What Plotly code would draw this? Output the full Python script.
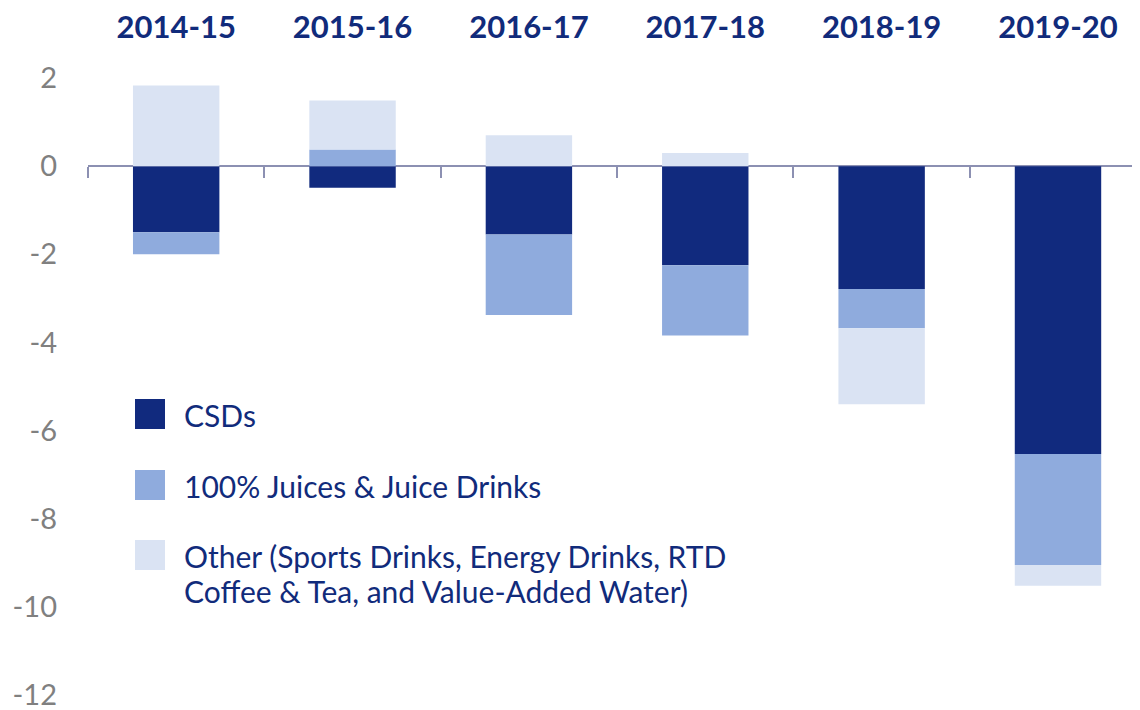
import plotly.graph_objects as go

categories = ["2014-15", "2015-16", "2016-17", "2017-18", "2018-19", "2019-20"]
series_names = ["CSDs", "100% Juices & Juice Drinks",
                "Other (Sports Drinks, Energy Drinks, RTD<br>Coffee & Tea, and Value-Added Water)"]
csds = [-1.50, -0.49, -1.55, -2.25, -2.79, -6.53]
juices = [-0.50, 0.38, -1.83, -1.59, -0.89, -2.52]
other = [1.83, 1.11, 0.70, 0.30, -1.72, -0.47]
colors = ["#112A7E", "#8FABDD", "#DAE3F3"]
y_ticks = [2, 0, -2, -4, -6, -8, -10, -12]

TEXT = "#112B7B"
AXIS = "#8C90B2"

# page body has an 8px margin, so the figure is sized to fill the rest
OFF = 8
W, H = 1140 - OFF, 710 - OFF
ML, MR, MT, MB = 88 - OFF, 0, 78 - OFF, 15
PW, PH = W - ML - MR, H - MT - MB

fig = go.Figure()
for name, vals, col in zip(series_names, [csds, juices, other], colors):
    fig.add_trace(go.Bar(
        x=list(range(len(categories))), y=vals, name=name,
        marker=dict(color=col, line=dict(width=0)),
        width=0.49, showlegend=False,
    ))

# invisible trace to activate the boundary tick axis
fig.add_trace(go.Scatter(x=[-0.5, 4.5], y=[0, 0], xaxis="x2", mode="lines",
                         line=dict(width=0), hoverinfo="skip", showlegend=False))

xr = [-0.5, 5.465]
fig.update_layout(
    width=W, height=H,
    barmode="relative",
    plot_bgcolor="white", paper_bgcolor="white",
    margin=dict(l=ML, r=MR, t=MT, b=MB, autoexpand=False),
    xaxis=dict(
        side="top", range=xr, automargin=False,
        tickmode="array", tickvals=list(range(len(categories))),
        ticktext=[f"<b>{c}</b>" for c in categories],
        tickfont=dict(family="Lato", size=31, color=TEXT),
        ticks="", showline=False, showgrid=False, zeroline=False,
        ticklabelstandoff=33, ticklabeloverflow="allow",
    ),
    xaxis2=dict(
        overlaying="x", anchor="free", position=12 / 14, side="bottom",
        range=xr, tickmode="array", tickvals=[-0.5, 0.5, 1.5, 2.5, 3.5, 4.5],
        showticklabels=False, ticks="outside", ticklen=11, tickwidth=2,
        tickcolor=AXIS, showline=False, showgrid=False, zeroline=False,
        automargin=False,
    ),
    yaxis=dict(
        range=[-12, 2], tickmode="array", tickvals=y_ticks,
        ticktext=[str(v) for v in y_ticks], automargin=False,
        tickfont=dict(family="Lato", size=29, color="#808080"),
        showgrid=False, showline=False, ticks="",
        zeroline=True, zerolinecolor=AXIS, zerolinewidth=2,
        ticklabelstandoff=30, ticklabeloverflow="allow",
    ),
)

def px(xp):
    return (xp - OFF - ML) / PW

def py(yp):
    return (H - MB - (yp - OFF)) / PH

# legend (manual, large square keys)
leg_y = [414, 485, 555]
LINE_GAP = 35
for name, col, yc in zip(series_names, colors, leg_y):
    fig.add_shape(type="rect", xref="paper", yref="paper",
                  x0=px(135), x1=px(165), y0=py(yc + 15), y1=py(yc - 15),
                  fillcolor=col, line=dict(width=0))
    for i, line in enumerate(name.split("<br>")):
        fig.add_annotation(
            xref="paper", yref="paper", x=px(182),
            y=py(yc + 1 + i * LINE_GAP),
            yanchor="middle", xanchor="left", align="left",
            text=line, showarrow=False,
            font=dict(family="Lato", size=30, color=TEXT),
        )

fig.write_html("out.html")
